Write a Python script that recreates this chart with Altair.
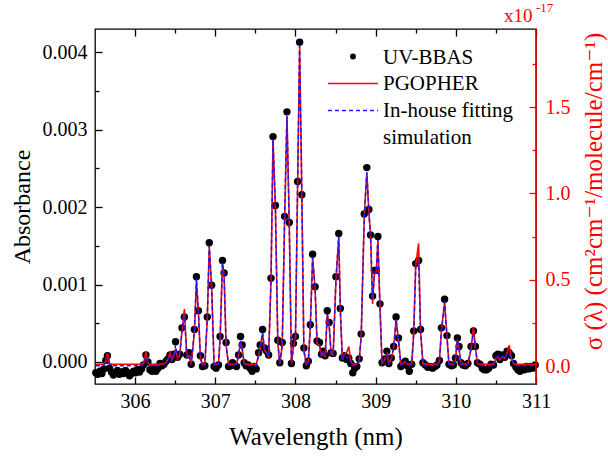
import altair as alt
import pandas as pd

# ---------------- data ----------------
wavelength_nm = [
    305.510, 305.535, 305.560, 305.585, 305.610, 305.635, 305.655, 305.680, 305.705, 305.730,
    305.755, 305.780, 305.805, 305.830, 305.855, 305.880, 305.905, 305.930, 305.955, 305.980,
    306.005, 306.030, 306.055, 306.080, 306.105, 306.135, 306.160, 306.185, 306.210, 306.235,
    306.260, 306.285, 306.310, 306.335, 306.360, 306.385, 306.410, 306.435, 306.460, 306.485,
    306.505, 306.530, 306.555, 306.585, 306.615, 306.645, 306.675, 306.700, 306.740, 306.765,
    306.790, 306.815, 306.840, 306.870, 306.900, 306.925, 306.955, 306.985, 307.010, 307.040,
    307.060, 307.090, 307.110, 307.135, 307.165, 307.190, 307.215, 307.240, 307.265, 307.290,
    307.315, 307.335, 307.360, 307.385, 307.410, 307.435, 307.460, 307.485, 307.510, 307.540,
    307.560, 307.590, 307.615, 307.640, 307.665, 307.695, 307.720, 307.750, 307.780, 307.805,
    307.835, 307.865, 307.894, 307.923, 307.950, 307.975, 308.000, 308.027, 308.052, 308.080,
    308.105, 308.135, 308.160, 308.185, 308.214, 308.245, 308.270, 308.300, 308.325, 308.345,
    308.370, 308.397, 308.420, 308.445, 308.470, 308.505, 308.540, 308.560, 308.585, 308.610,
    308.640, 308.665, 308.690, 308.715, 308.740, 308.765, 308.795, 308.820, 308.858, 308.890,
    308.916, 308.937, 308.962, 308.985, 309.008, 309.028, 309.054, 309.080, 309.110, 309.140,
    309.165, 309.195, 309.225, 309.255, 309.285, 309.315, 309.340, 309.370, 309.395, 309.420,
    309.450, 309.475, 309.500, 309.536, 309.560, 309.590, 309.620, 309.650, 309.680, 309.710,
    309.740, 309.765, 309.795, 309.820, 309.860, 309.890, 309.915, 309.945, 309.970, 309.995,
    310.020, 310.040, 310.065, 310.090, 310.120, 310.150, 310.190, 310.220, 310.245, 310.270,
    310.300, 310.330, 310.355, 310.385, 310.410, 310.440, 310.470, 310.500, 310.525, 310.550,
    310.580, 310.610, 310.640, 310.665, 310.695, 310.720, 310.750, 310.775, 310.800, 310.830,
    310.855, 310.880, 310.910, 310.935, 310.960, 310.990,
]

# UV-BBAS measured absorbance (in units of 1e-3)
uvbbas_milli = [
    -0.14, -0.16, -0.12, -0.15, -0.09, 0.02, 0.08, -0.08, -0.13, -0.17,
    -0.14, -0.11, -0.16, -0.13, -0.15, -0.11, -0.14, -0.18, -0.15, -0.12,
    -0.14, -0.10, -0.13, -0.09, -0.04, 0.09, 0.00, -0.10, -0.12, -0.09,
    -0.12, -0.08, -0.02, -0.05, -0.03, 0.01, 0.04, 0.09, 0.03, 0.10,
    0.26, 0.06, 0.10, 0.44, 0.58, 0.09, 0.12, -0.03, 0.42, 1.10,
    0.66, 0.08, -0.06, -0.05, 0.58, 1.54, 0.99, -0.06, -0.08, -0.04,
    0.33, 1.31, 1.15, 0.25, -0.06, -0.05, -0.01, -0.04, -0.06, 0.09,
    0.33, 0.22, -0.01, -0.05, -0.04, -0.08, -0.12, -0.06, -0.09, 0.12,
    0.22, 0.42, 0.18, 0.14, 0.09, 1.08, 2.91, 2.02, 0.28, -0.01,
    0.25, 1.88, 3.23, 1.80, -0.02, 0.24, 0.33, 2.33, 4.13, 2.16,
    0.18, -0.05, 0.01, 0.48, 1.39, 0.97, 0.27, 0.25, 0.10, 0.14,
    0.08, 0.66, 0.51, 0.12, 0.11, 1.10, 1.66, 0.69, 0.05, 0.08,
    0.03, 0.05, -0.02, -0.14, -0.08, -0.06, 0.04, 0.36, 1.91, 2.51,
    1.97, 1.64, 0.85, 1.18, 1.18, 1.62, 0.75, -0.01, 0.04, 0.14,
    -0.02, 0.05, 0.20, 0.58, 0.31, -0.06, -0.02, 0.01, -0.05, -0.12,
    -0.03, 0.40, 1.27, 1.31, 0.42, -0.01, -0.04, -0.07, -0.06, -0.08,
    -0.06, -0.04, 0.02, 0.44, 0.81, 0.34, -0.03, -0.05, -0.04, 0.05,
    0.31, 0.20, -0.01, -0.04, -0.05, -0.02, 0.20, 0.40, 0.20, -0.01,
    -0.03, -0.08, -0.10, -0.10, -0.08, -0.03, -0.04, 0.08, 0.10, 0.03,
    0.09, 0.06, 0.14, 0.12, 0.08, -0.02, -0.07, -0.10, -0.12, -0.08,
    -0.10, -0.06, -0.09, -0.06, -0.08, -0.04,
]

# In-house fitting simulation (absorbance, units of 1e-3)
inhouse_milli = [
    -0.05, -0.05, -0.05, -0.05, -0.04, 0.00, 0.06, -0.03, -0.05, -0.05,
    -0.05, -0.05, -0.05, -0.05, -0.05, -0.05, -0.05, -0.05, -0.05, -0.05,
    -0.05, -0.05, -0.05, -0.05, -0.03, 0.07, -0.02, -0.05, -0.05, -0.05,
    -0.05, -0.05, -0.04, -0.04, -0.03, -0.01, 0.03, 0.07, 0.02, 0.08,
    0.22, 0.05, 0.08, 0.40, 0.60, 0.08, 0.10, -0.03, 0.40, 1.08,
    0.64, 0.06, -0.04, -0.04, 0.55, 1.50, 0.97, -0.04, -0.05, -0.03,
    0.30, 1.28, 1.12, 0.22, -0.04, -0.05, -0.04, -0.04, -0.03, 0.08,
    0.28, 0.18, -0.02, -0.05, -0.05, -0.05, -0.05, -0.05, -0.05, 0.08,
    0.18, 0.38, 0.15, 0.12, 0.06, 1.05, 2.88, 2.00, 0.25, -0.02,
    0.22, 1.85, 3.18, 1.78, -0.02, 0.20, 0.30, 2.30, 4.08, 2.14,
    0.15, -0.04, 0.00, 0.45, 1.35, 0.95, 0.24, 0.22, 0.08, 0.12,
    0.06, 0.62, 0.48, 0.10, 0.09, 1.06, 1.62, 0.66, 0.03, 0.10,
    0.05, 0.08, -0.02, -0.05, -0.05, -0.04, 0.02, 0.33, 1.88, 2.45,
    1.94, 1.62, 0.82, 1.16, 1.15, 1.58, 0.72, -0.02, 0.02, 0.12,
    -0.02, 0.04, 0.18, 0.55, 0.28, -0.04, -0.02, 0.01, -0.03, -0.05,
    -0.02, 0.37, 1.25, 1.30, 0.40, -0.02, -0.05, -0.05, -0.05, -0.05,
    -0.05, -0.05, 0.00, 0.40, 0.78, 0.32, -0.03, -0.05, -0.04, 0.03,
    0.29, 0.18, -0.02, -0.05, -0.05, -0.03, 0.17, 0.38, 0.18, -0.02,
    -0.04, -0.05, -0.05, -0.05, -0.05, -0.05, -0.05, 0.05, 0.07, 0.03,
    0.07, 0.05, 0.12, 0.10, 0.05, -0.02, -0.05, -0.05, -0.05, -0.05,
    -0.05, -0.05, -0.05, -0.05, -0.05, -0.05,
]

# PGOPHER cross-section (units of 1e-17 cm^2 cm^-1 / molecule / cm^-1)
pgopher_sigma = [
    0.01, 0.01, 0.01, 0.01, 0.01, 0.03, 0.075, 0.015, 0.01, 0.01,
    0.01, 0.01, 0.01, 0.01, 0.01, 0.01, 0.01, 0.01, 0.01, 0.01,
    0.01, 0.01, 0.01, 0.01, 0.015, 0.08, 0.015, 0.01, 0.01, 0.01,
    0.01, 0.01, 0.01, 0.01, 0.015, 0.02, 0.04, 0.077, 0.035, 0.06,
    0.10, 0.04, 0.06, 0.20, 0.33, 0.05, 0.06, 0.01, 0.20, 0.49,
    0.31, 0.04, 0.01, 0.01, 0.27, 0.69, 0.45, 0.01, 0.01, 0.01,
    0.157, 0.596, 0.524, 0.121, 0.01, 0.01, 0.01, 0.01, 0.01, 0.059,
    0.144, 0.104, 0.014, 0.01, 0.01, 0.01, 0.01, 0.01, 0.01, 0.059,
    0.104, 0.19, 0.09, 0.077, 0.05, 0.493, 1.312, 0.918, 0.135, 0.014,
    0.121, 0.851, 1.446, 0.82, 0.014, 0.113, 0.157, 1.053, 1.849, 0.981,
    0.09, 0.01, 0.023, 0.224, 0.627, 0.448, 0.13, 0.121, 0.059, 0.077,
    0.05, 0.301, 0.238, 0.068, 0.063, 0.497, 0.748, 0.318, 0.036, 0.068,
    0.08, 0.113, 0.03, 0.01, 0.01, 0.01, 0.032, 0.171, 0.865, 1.12,
    0.891, 0.748, 0.36, 0.542, 0.538, 0.73, 0.345, 0.014, 0.032, 0.077,
    0.014, 0.041, 0.104, 0.269, 0.148, 0.01, 0.014, 0.027, 0.01, 0.01,
    0.014, 0.189, 0.583, 0.71, 0.202, 0.014, 0.01, 0.01, 0.01, 0.01,
    0.01, 0.01, 0.023, 0.202, 0.372, 0.166, 0.01, 0.01, 0.01, 0.036,
    0.153, 0.099, 0.014, 0.01, 0.01, 0.01, 0.099, 0.224, 0.104, 0.014,
    0.01, 0.01, 0.01, 0.01, 0.01, 0.01, 0.01, 0.045, 0.054, 0.036,
    0.054, 0.045, 0.077, 0.12, 0.045, 0.014, 0.01, 0.01, 0.01, 0.01,
    0.01, 0.01, 0.01, 0.01, 0.01, 0.01,
]

x_major = [306, 307, 308, 309, 310, 311]
x_minor = [306.5, 307.5, 308.5, 309.5, 310.5]
yl_major = [0.0, 0.001, 0.002, 0.003, 0.004]
yl_minor = [0.0005, 0.0015, 0.0025, 0.0035]
yr_major = [0.0, 0.5, 1.0, 1.5]
yr_minor = [0.25, 0.75, 1.25, 1.75]

legend_labels = ["UV-BBAS", "PGOPHER", "In-house fitting", "simulation"]

# ---------------- styling / layout ----------------
FONT = "'Liberation Serif', 'DejaVu Serif', serif"
RED = "#ff0000"
BLUE = "#1a1aff"
W, H = 441, 355
X_DOM = [305.5, 311.0]
YL_DOM = [-0.000285, 0.0043]
YR_DOM = [-0.104, 1.952]

df = pd.DataFrame({
    "wl": wavelength_nm,
    "uvbbas": [v * 1e-3 for v in uvbbas_milli],
    "inhouse": [v * 1e-3 for v in inhouse_milli],
    "pgopher": pgopher_sigma,
})
one = pd.DataFrame({"k": [0]})

xs = alt.Scale(domain=X_DOM, nice=False, zero=False)
yls = alt.Scale(domain=YL_DOM, nice=False, zero=False)
yrs = alt.Scale(domain=YR_DOM, nice=False, zero=False)


def ax(orient, values, size, color="black", **kw):
    base = dict(orient=orient, values=values, tickSize=size, offset=-size,
                domain=False, grid=False, tickColor=color, tickWidth=1.3,
                labelColor=color, titleColor=color, labelFont=FONT, titleFont=FONT,
                titleFontWeight="normal", labelFlush=False, labelOverlap=False)
    base.update(kw)
    if "labels" not in kw:
        base["labels"] = False
    if "title" not in kw:
        base["title"] = None
    return alt.Axis(**base)


ax_bottom = ax("bottom", x_major, 7, labels=True, format="d", labelFontSize=20,
               labelPadding=7, title="Wavelength (nm)", titleFontSize=25, titlePadding=13)
ax_bottom_minor = ax("bottom", x_minor, 4)
ax_top = ax("top", x_major, 7)
ax_top_minor = ax("top", x_minor, 4)
ax_left = ax("left", yl_major, 7, labels=True, format=".3f", labelFontSize=20,
             labelPadding=8, title="Absorbance", titleFontSize=24, titlePadding=8)
ax_left_minor = ax("left", yl_minor, 4)
ax_right = ax("right", yr_major, 7, color=RED, labels=True, format=".1f",
              labelFontSize=20, labelPadding=9,
              title="σ (λ) (cm²cm⁻¹/molecule/cm⁻¹)", titleFontSize=25,
              titleAngle=270, titlePadding=36, titleY=162)
ax_right_minor = ax("right", yr_minor, 4, color=RED)

base = alt.Chart(df)

dots = base.mark_circle(size=55, color="black", opacity=1).encode(
    x=alt.X("wl:Q", scale=xs, axis=ax_bottom),
    y=alt.Y("uvbbas:Q", scale=yls, axis=ax_left),
)
red = base.mark_line(color=RED, strokeWidth=1.6).encode(
    x=alt.X("wl:Q", scale=xs, axis=ax_top),
    y=alt.Y("pgopher:Q", scale=yrs, axis=ax_right),
)
blue = base.mark_line(color=BLUE, strokeWidth=1.5, strokeDash=[4, 3]).encode(
    x=alt.X("wl:Q", scale=xs, axis=ax_bottom_minor),
    y=alt.Y("inhouse:Q", scale=yls, axis=ax_left_minor),
)
ghost = base.mark_line(strokeOpacity=0).encode(
    x=alt.X("wl:Q", scale=xs, axis=ax_top_minor),
    y=alt.Y("pgopher:Q", scale=yrs, axis=ax_right_minor),
)

right_edge = alt.Chart(one).mark_rule(color=RED, strokeWidth=1.5).encode(
    x=alt.XDatum(X_DOM[1], axis=None),
)

# legend (decoration)
lg_dot = alt.Chart(one).mark_circle(size=34, color="black", opacity=1).encode(
    x=alt.value(258), y=alt.value(27.5))
lg_red = alt.Chart(one).mark_rule(color=RED, strokeWidth=1.6).encode(
    x=alt.value(233), x2=alt.value(283), y=alt.value(54.5))
lg_blue = alt.Chart(one).mark_rule(color=BLUE, strokeWidth=1.5, strokeDash=[4, 3]).encode(
    x=alt.value(233), x2=alt.value(283), y=alt.value(81.5))
lg_texts = [
    alt.Chart(one).mark_text(align="left", baseline="middle", font=FONT, fontSize=21,
                             color="black").encode(
        x=alt.value(288), y=alt.value(yy), text=alt.value(t))
    for t, yy in zip(legend_labels, [28.5, 55, 82, 109])
]

exp_main = alt.Chart(one).mark_text(align="left", baseline="middle", font=FONT,
                                    fontSize=19, color=RED).encode(
    x=alt.value(409), y=alt.value(-13), text=alt.value("x10"))
exp_sup = alt.Chart(one).mark_text(align="left", baseline="middle", font=FONT,
                                   fontSize=13, color=RED).encode(
    x=alt.value(441), y=alt.value(-21), text=alt.value("-17"))

chart = alt.layer(
    dots, red, blue, ghost, right_edge, lg_dot, lg_red, lg_blue, *lg_texts,
    exp_main, exp_sup,
).resolve_scale(y="independent").resolve_axis(x="independent", y="independent").properties(
    width=W, height=H,
    autosize=alt.AutoSizeParams(type="none"),
    padding={"left": 95, "top": 29, "right": 72, "bottom": 75},
    background="white",
).configure_view(stroke="black", strokeWidth=1.3)

chart.save("out.html", embed_options={"renderer": "svg", "actions": False})
